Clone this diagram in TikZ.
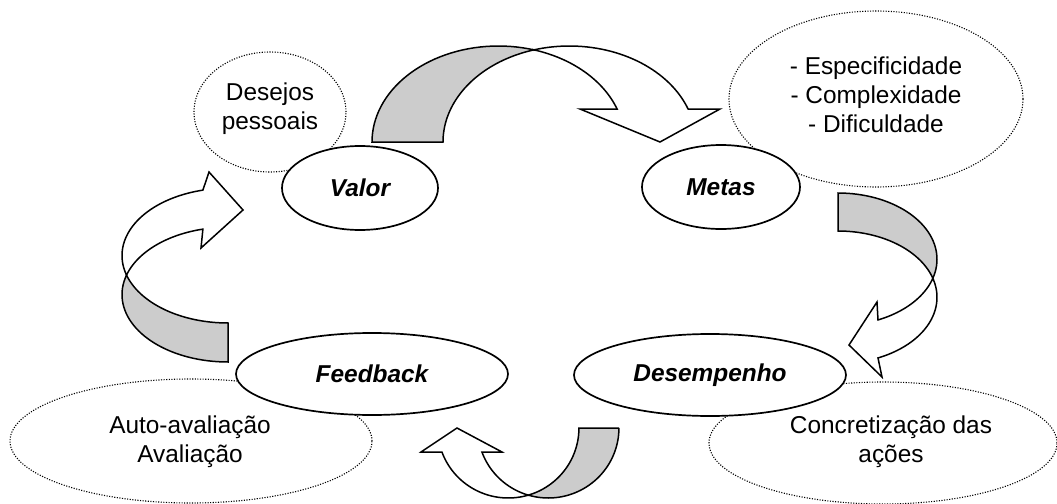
\documentclass[tikz,border=0pt]{standalone}
\usepackage{fontspec}
\setmainfont{Liberation Sans}
\usetikzlibrary{shapes.geometric}
\definecolor{bandgray}{RGB}{204,204,204}
\begin{document}
\begin{tikzpicture}[x=0.5pt,y=-0.5pt,
  stage/.style={ellipse, draw, line width=0.85pt, fill=white, inner sep=0pt,
    font=\fontsize{12.2}{14.6}\selectfont\bfseries\itshape},
  note/.style={ellipse, draw, line width=0.55pt, dash pattern=on 0.55pt off 0.75pt,
    fill=white, inner sep=0pt},
  notetext/.style={align=center, inner sep=0pt, font=\fontsize{12.2}{14.6}\selectfont},
  band/.style={draw, line width=0.75pt, line join=miter, fill=bandgray},
  front/.style={draw, line width=0.75pt, line join=miter, fill=white}]
\useasboundingbox (0,0) rectangle (1057,504);

% dotted side notes
\node[note, minimum width=76pt, minimum height=60pt] (wish) at (270,112) {};
\node[note, minimum width=147pt, minimum height=88pt] (goalattr) at (876,99) {};
\node[note, minimum width=181pt, minimum height=62pt] (evalnote) at (191,441) {};
\node[note, minimum width=174pt, minimum height=61pt] (actnote) at (883,443) {};
\node[notetext] (wishtext) at (270,109) {Desejos\\pessoais};
\node[notetext] (goaltext) at (876,95) {- Especificidade\\- Complexidade\\- Dificuldade};
\node[notetext] (evaltext) at (190,442) {Auto-avaliação\\Avaliação};
\node[notetext] (acttext) at (891,442) {Concretização das\\ações};

% curved arrow: Valor -> Metas
\path[band] (372,142)
  -- plot[domain=180:286.3, samples=40] ({498.4+126.4*cos(\x)},{142+96*sin(\x)})
  -- plot[domain=253.7:180, samples=40] ({569.4+126.4*cos(\x)},{142+96*sin(\x)})
  -- cycle;
\path[front] (533.9,49.9)
  -- plot[domain=253.7:339.9, samples=40] ({569.4+126.4*cos(\x)},{142+96*sin(\x)})
  -- (720,109) -- (660,142) -- (580,109)
  -- plot[domain=339.9:286.3, samples=40] ({498.4+126.4*cos(\x)},{142+96*sin(\x)})
  -- cycle;

% curved arrow: Metas -> Desempenho
\path[band] (838,193)
  -- plot[domain=270:376.65, samples=40] ({838+99*cos(\x)},{259.3+66.3*sin(\x)})
  -- plot[domain=343.35:270, samples=40] ({838+99*cos(\x)},{297.3+66.3*sin(\x)})
  -- cycle;
\path[front] (932.9,278.3)
  -- plot[domain=343.35:426.17, samples=40] ({838+99*cos(\x)},{297.3+66.3*sin(\x)})
  -- (882,377) -- (849,345) -- (877,302)
  -- plot[domain=426.17:376.65, samples=40] ({838+99*cos(\x)},{259.3+66.3*sin(\x)})
  -- cycle;

% curved arrow: Desempenho -> Feedback
\path[band] (619,428)
  -- plot[domain=0:106.4, samples=40] ({548.3+70.65*cos(\x)},{428+70*sin(\x)})
  -- plot[domain=73.6:0, samples=40] ({508.3+70.65*cos(\x)},{428+70*sin(\x)})
  -- cycle;
\path[front] (528.3,495.2)
  -- plot[domain=73.6:159.9, samples=40] ({508.3+70.65*cos(\x)},{428+70*sin(\x)})
  -- (421,452) -- (457,428) -- (502,452)
  -- plot[domain=159.9:106.4, samples=40] ({548.3+70.65*cos(\x)},{428+70*sin(\x)})
  -- cycle;

% curved arrow: Feedback -> Valor
\path[band] (228,362)
  -- plot[domain=90:196.8, samples=40] ({228+106*cos(\x)},{294.6+67.4*sin(\x)})
  -- plot[domain=163.2:90, samples=40] ({228+106*cos(\x)},{255.6+67.4*sin(\x)})
  -- cycle;
\path[front] (126.5,275.1)
  -- plot[domain=163.2:256.3, samples=40] ({228+106*cos(\x)},{255.6+67.4*sin(\x)})
  -- (209,172) -- (243,210) -- (201,248)
  -- plot[domain=256.3:196.8, samples=40] ({228+106*cos(\x)},{294.6+67.4*sin(\x)})
  -- cycle;

% cycle stages
\node[stage, minimum width=78pt, minimum height=42pt] (valor) at (360,188) {Valor};
\node[stage, minimum width=79pt, minimum height=42pt] (metas) at (721,187) {Metas};
\node[stage, minimum width=136pt, minimum height=41pt] (feedback) at (372,374) {Feedback};
\node[stage, minimum width=136pt, minimum height=41pt] (desempenho) at (710,375) {Desempenho};
\end{tikzpicture}
\end{document}
